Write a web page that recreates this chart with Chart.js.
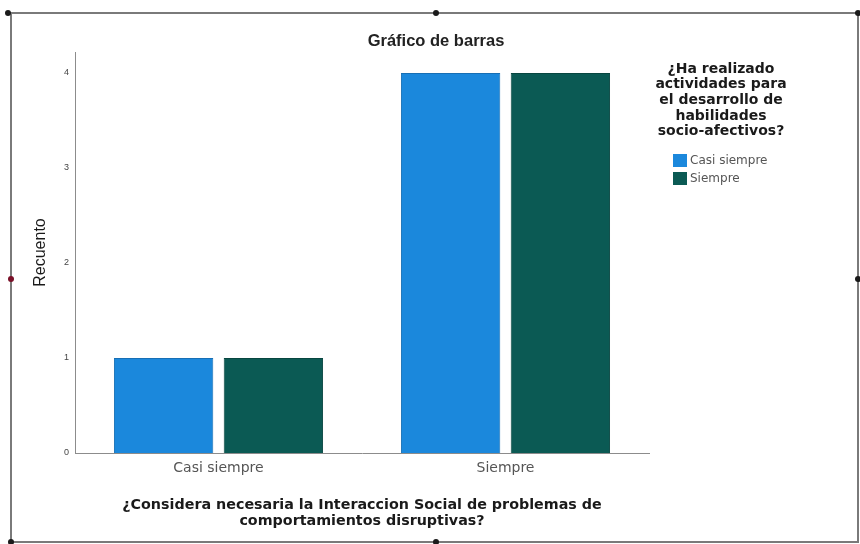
<!DOCTYPE html>
<html>
<head>
<meta charset="utf-8">
<title>Gráfico de barras</title>
<script src="https://cdn.jsdelivr.net/npm/chart.js@4"></script>
<style>
  html, body { margin: 0; padding: 0; background: #fff; }
  #chartCanvas { display: block; }
</style>
</head>
<body>
<canvas id="chartCanvas" width="860" height="544"></canvas>
<script>
const categories = ["Casi siempre", "Siempre"];
const seriesNames = ["Casi siempre", "Siempre"];
const casiSiempreCounts = [1, 4];
const siempreCounts = [1, 4];
const yTicks = [0, 1, 2, 3, 4];

const chartTitle = "Gráfico de barras";
const xTitle = ["¿Considera necesaria la Interaccion Social de problemas de", "comportamientos disruptivas?"];
const yTitle = "Recuento";
const legendTitle = ["¿Ha realizado", "actividades para", "el desarrollo de", "habilidades", "socio-afectivos?"];

const barColors = ["#1b88dc", "#0b5a54"];
const barBorders = ["#176fb5", "#084640"];

// title, legend box and the selection frame around the whole chart
const decorPlugin = {
    id: "decor",
    beforeDraw(chart) {
        const ctx = chart.ctx;
        ctx.save();
        ctx.fillStyle = "#fff";
        ctx.fillRect(0, 0, chart.width, chart.height);
        ctx.restore();
    },
    afterDraw(chart) {
        const ctx = chart.ctx;
        ctx.save();

        // chart title
        ctx.fillStyle = "#222";
        ctx.font = "bold 16.5px 'Liberation Sans', Arial, sans-serif";
        ctx.textAlign = "center";
        ctx.textBaseline = "middle";
        ctx.fillText(chartTitle, 436, 41);

        // legend title
        ctx.font = "bold 14px 'DejaVu Sans', sans-serif";
        ctx.fillStyle = "#1a1a1a";
        legendTitle.forEach((line, i) => ctx.fillText(line, 721, 69 + i * 15.7));

        // legend items
        ctx.textAlign = "left";
        ctx.font = "12px 'DejaVu Sans', sans-serif";
        chart.data.datasets.forEach((ds, i) => {
            const y = 154 + i * 18;
            ctx.fillStyle = ds.backgroundColor;
            ctx.fillRect(673, y, 14, 13);
            ctx.fillStyle = "#555";
            ctx.fillText(ds.label, 690, y + 7);
        });

        // frame
        ctx.strokeStyle = "#7a7a7a";
        ctx.lineWidth = 2;
        ctx.beginPath();
        ctx.moveTo(8, 13);
        ctx.lineTo(859, 13);
        ctx.moveTo(11, 13);
        ctx.lineTo(11, 543);
        ctx.moveTo(858, 13);
        ctx.lineTo(858, 543);
        ctx.moveTo(11, 542);
        ctx.lineTo(859, 542);
        ctx.stroke();

        const handles = [[8, 13, "#1a1a1a"], [436, 13, "#1a1a1a"], [858, 13, "#1a1a1a"],
                         [11, 279, "#7a1028"], [858, 279, "#1a1a1a"], [436, 542, "#1a1a1a"],
                         [11, 542, "#1a1a1a"]];
        handles.forEach(([x, y, c]) => {
            ctx.fillStyle = c;
            ctx.beginPath();
            ctx.arc(x, y, 3, 0, Math.PI * 2);
            ctx.fill();
        });
        ctx.restore();
    }
};

const ctx = document.getElementById("chartCanvas").getContext("2d");
const chart = new Chart(ctx, {
    type: "bar",
    data: {
        labels: categories,
        datasets: [
            {
                label: seriesNames[0],
                data: casiSiempreCounts,
                backgroundColor: barColors[0],
                borderColor: barBorders[0],
                borderWidth: 1
            },
            {
                label: seriesNames[1],
                data: siempreCounts,
                backgroundColor: barColors[1],
                borderColor: barBorders[1],
                borderWidth: 1
            }
        ]
    },
    options: {
        responsive: false,
        animation: false,
        categoryPercentage: 0.765,
        barPercentage: 0.905,
        layout: { padding: { top: 52, right: 211, bottom: 0, left: 0 } },
        plugins: {
            legend: { display: false },
            title: { display: false },
            tooltip: { enabled: false }
        },
        scales: {
            x: {
                grid: { display: false, drawTicks: false },
                border: { display: true, color: "#8c8c8c", width: 1 },
                ticks: {
                    padding: 7,
                    color: "#555",
                    font: { family: "'DejaVu Sans', sans-serif", size: 14 }
                },
                title: {
                    display: true,
                    text: xTitle,
                    color: "#1a1a1a",
                    font: { family: "'DejaVu Sans', sans-serif", size: 14.3, weight: "bold", lineHeight: 1.1 },
                    padding: { top: 0, bottom: 15 }
                },
                afterFit(scale) { scale.height = 91; }
            },
            y: {
                min: 0,
                max: 4.22,
                grid: { display: false, drawTicks: false },
                border: { display: true, color: "#8c8c8c", width: 1 },
                afterBuildTicks(scale) {
                    scale.ticks = yTicks.map(v => ({ value: v }));
                },
                ticks: {
                    padding: 6,
                    color: "#444",
                    font: { family: "'Liberation Sans', Arial, sans-serif", size: 9 }
                },
                title: {
                    display: true,
                    text: yTitle,
                    color: "#1a1a1a",
                    font: { family: "'Liberation Sans', Arial, sans-serif", size: 16 },
                    padding: { top: 31, bottom: 0 }
                },
                afterFit(scale) { scale.width = 75; }
            }
        }
    },
    plugins: [decorPlugin]
});
</script>
</body>
</html>
